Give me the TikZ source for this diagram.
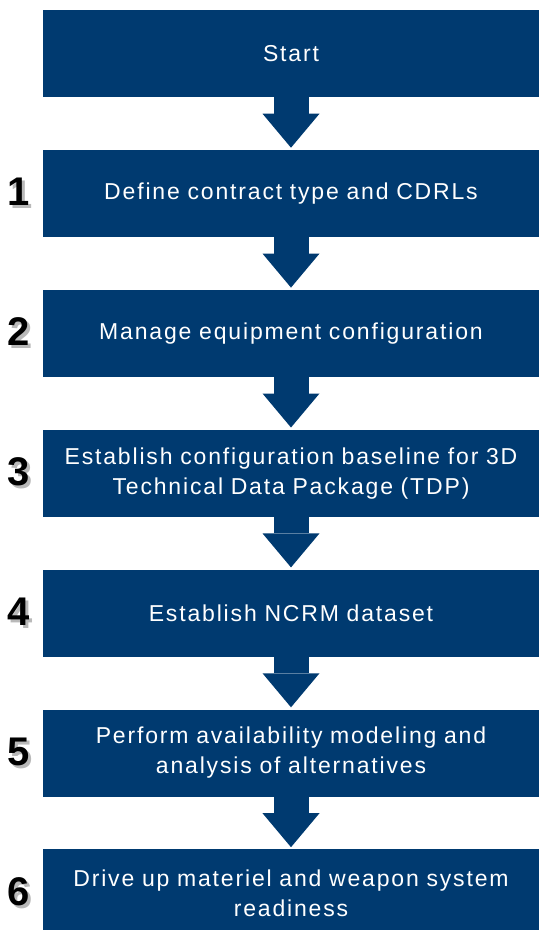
\documentclass[tikz,border=0pt]{standalone}
\usepackage{fontspec}
\setmainfont{Liberation Sans}
\newfontfamily\boxfont[LetterSpace=8]{Liberation Sans}
\usetikzlibrary{positioning,arrows.meta}
\definecolor{navy}{RGB}{0,58,112}
\newcommand{\stepnum}[1]{{\color{gray!55}\rlap{\hspace{3pt}\raisebox{-3pt}{#1}}}#1}

\begin{document}
\begin{tikzpicture}[x=1pt, y=1pt, node distance=52.5pt,
  stepbox/.style={fill=navy, text=white, minimum width=496pt, minimum height=87pt, text width=490pt, align=center, inner sep=0pt, font=\boxfont\fontsize{23}{30}\selectfont},
  num/.style={font=\bfseries\fontsize{40}{40}\selectfont, inner sep=0pt},
  flow/.style={navy, line width=35pt, -{Triangle[width=57pt,length=34pt,line width=0pt]}, shorten >=2pt}]
	\useasboundingbox (0,0) rectangle (539,-930);
	\node[stepbox] (start) at (291,-53.5) {Start};
	\node[stepbox] (s1) [below=of start] {Define contract type and CDRLs};
	\node[stepbox] (s2) [below=of s1] {Manage equipment configuration};
	\node[stepbox] (s3) [below=of s2] {Establish configuration baseline for 3D\\Technical Data Package (TDP)};
	\node[stepbox] (s4) [below=of s3] {Establish NCRM dataset};
	\node[stepbox] (s5) [below=of s4] {Perform availability modeling and\\analysis of alternatives};
	\node[stepbox] (s6) [below=of s5] {Drive up materiel and weapon system\\readiness};
	\node[num] (n1) [left=12.5pt of s1] {\stepnum{1}};
	\node[num] (n2) [left=12.5pt of s2] {\stepnum{2}};
	\node[num] (n3) [left=12.5pt of s3] {\stepnum{3}};
	\node[num] (n4) [left=12.5pt of s4] {\stepnum{4}};
	\node[num] (n5) [left=12.5pt of s5] {\stepnum{5}};
	\node[num] (n6) [left=12.5pt of s6] {\stepnum{6}};
	\draw[flow] (start) -- (s1);
	\draw[flow] (s1) -- (s2);
	\draw[flow] (s2) -- (s3);
	\draw[flow] (s3) -- (s4);
	\draw[flow] (s4) -- (s5);
	\draw[flow] (s5) -- (s6);
\end{tikzpicture}
\end{document}
